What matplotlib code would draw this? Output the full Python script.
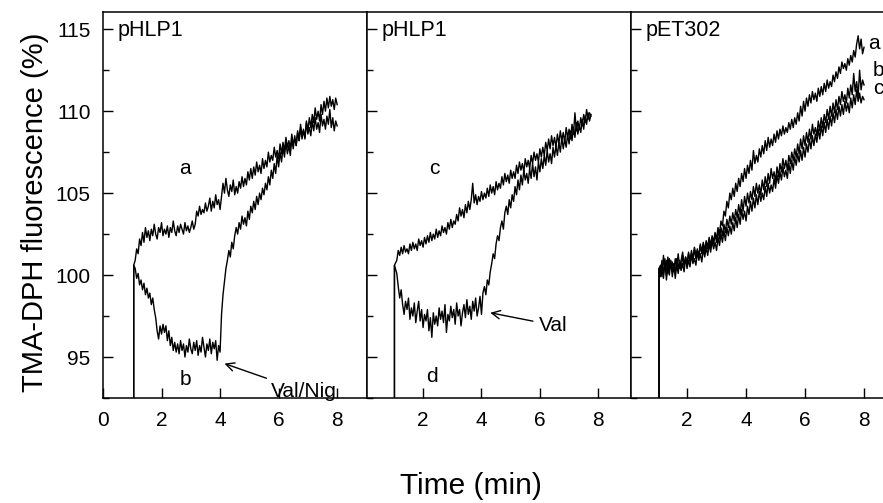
import numpy as np
import matplotlib.pyplot as plt
from matplotlib.ticker import MultipleLocator

plt.rcParams['font.family'] = ['Liberation Sans', 'DejaVu Sans']

# sampling grid of the recorded traces (min)
t_long = np.round(np.arange(1.10, 8.001, 0.05), 2)   # 139 points
t_short = np.round(np.arange(1.10, 7.751, 0.05), 2)  # 134 points

# onset of recording (vertical jump) and first level
jump_t = [1.05, 1.02, 1.05]
jump_v = [100.6, 100.6, 100.4]

# panel 1: pHLP1, traces a and b
p1_a = [100.9, 101.6, 101.3, 102.2, 101.8, 102.6, 102.0, 102.9, 102.3, 102.7,
        102.1, 102.8, 102.4, 103.1, 102.5, 102.2, 102.9, 102.6, 103.2, 102.4,
        102.8, 102.5, 103.0, 102.3, 102.9, 102.6, 103.3, 102.7, 102.4, 103.0,
        102.6, 103.1, 102.8, 102.5, 103.2, 102.7, 103.0, 102.6, 102.9, 103.3,
        102.8, 103.1, 103.9, 103.6, 104.2, 103.7, 104.0, 103.8, 104.4, 103.9,
        104.2, 104.7, 103.9, 104.5, 104.1, 104.9, 104.3, 104.6, 104.0, 104.8,
        105.6, 105.0, 105.9, 105.2, 104.8, 105.5, 105.1, 105.8, 104.9, 105.4,
        105.0, 105.7, 105.3, 106.0, 105.4, 105.9, 105.5, 106.3, 105.8, 106.5,
        105.9, 106.6, 106.1, 106.9, 106.3, 106.7, 106.2, 107.1, 106.5, 107.0,
        106.6, 107.5, 106.9, 107.3, 107.0, 107.8, 107.2, 107.6, 107.1, 108.0,
        107.4, 108.1, 107.6, 108.4, 107.8, 108.2, 107.7, 108.6, 108.0, 108.3,
        107.9, 108.7, 108.2, 109.0, 108.3, 108.8, 108.4, 109.3, 108.6, 109.0,
        108.5, 109.4, 108.8, 109.6, 108.9, 109.3, 108.7, 109.8, 109.1, 109.5,
        108.9, 109.7, 109.2, 110.1, 109.0, 109.6, 108.8, 109.4, 109.1]
p1_b = [100.4, 99.8, 100.1, 99.4, 99.7, 99.1, 99.5, 98.8, 99.2, 98.6,
        98.9, 98.2, 98.6, 97.9, 97.4, 96.6, 96.1, 96.9, 96.4, 97.0,
        96.5, 96.9, 96.0, 96.6, 95.7, 96.2, 95.4, 95.9, 95.3, 95.8,
        95.2, 96.0, 95.4, 95.8, 95.0, 95.7, 95.3, 96.1, 95.5, 95.2,
        95.9, 95.4, 96.0, 95.1, 95.7, 95.3, 96.2, 95.6, 95.0, 95.8,
        95.4, 96.1, 95.2, 95.9, 95.5, 96.0, 94.8, 95.7, 95.3, 97.6,
        98.8, 99.6, 100.4, 100.9, 101.5, 101.1, 102.0, 101.6, 102.4, 102.9,
        102.5, 103.2, 102.8, 103.6, 103.1, 103.5, 103.0, 103.9, 103.4, 104.2,
        103.8, 104.5, 104.0, 104.8, 104.3, 105.0, 104.6, 105.3, 104.9, 105.6,
        105.2, 106.0, 105.5, 106.4, 105.9, 106.8, 106.2, 107.3, 106.6, 107.5,
        106.9, 107.8, 107.2, 108.1, 107.4, 107.9, 107.3, 108.3, 107.7, 108.5,
        107.9, 108.8, 108.2, 109.2, 108.5, 108.9, 108.3, 109.4, 108.8, 109.6,
        109.0, 109.8, 109.3, 110.2, 109.5, 110.0, 109.4, 110.4, 109.8, 110.6,
        110.0, 110.8, 110.2, 110.9, 110.3, 110.7, 110.1, 110.8, 110.4]

# panel 2: pHLP1, traces c and d
p2_c = [100.9, 101.5, 101.2, 101.7, 101.3, 101.8, 101.4, 101.6, 101.3, 101.9,
        101.5, 102.0, 101.6, 101.9, 101.5, 102.2, 101.8, 102.1, 101.7, 102.3,
        101.9, 102.4, 102.0, 102.6, 102.1, 102.5, 102.2, 102.8, 102.3, 102.7,
        102.4, 103.0, 102.6, 102.9, 102.5, 103.2, 102.8, 103.4, 102.9, 103.3,
        103.1, 103.7, 103.3, 104.1, 103.6, 104.0, 103.5, 104.3, 103.8, 104.5,
        104.0, 104.6, 105.6, 104.4, 104.9, 104.3, 104.8, 104.5, 105.1, 104.6,
        105.0, 104.7, 105.3, 104.8, 105.5, 105.0, 105.4, 104.9, 105.7, 105.2,
        105.6, 105.3, 106.0, 105.5, 106.2, 105.7, 106.1, 105.6, 106.4, 105.9,
        106.3, 105.9, 106.7, 106.2, 106.9, 106.4, 106.8, 106.3, 107.1, 106.6,
        107.0, 106.5, 107.3, 106.8, 107.5, 107.0, 107.4, 106.9, 107.7, 107.2,
        107.8, 107.3, 108.1, 107.6, 108.3, 107.7, 108.5, 107.9, 108.4, 107.8,
        108.6, 108.0, 108.8, 108.2, 108.7, 108.1, 109.0, 108.4, 108.9, 108.3,
        109.2, 108.6, 109.9, 108.8, 109.4, 108.9, 109.6, 109.1, 109.8, 109.3,
        110.1, 109.5, 109.9, 109.7]
p2_d = [100.1, 99.3, 98.6, 99.1, 98.2, 97.6, 98.4, 97.9, 98.6, 97.3,
        98.0, 97.5, 98.3, 97.1, 97.8, 98.4, 97.2, 97.9, 96.8, 97.6,
        97.2, 97.9, 96.6, 97.4, 96.2, 97.7, 97.0, 97.5, 96.9, 98.0,
        97.3, 97.8, 97.1, 98.2, 96.5, 97.6, 97.2, 98.1, 97.4, 97.9,
        97.0, 98.3, 97.5, 97.9, 96.9, 97.7, 98.2, 97.4, 98.5, 97.6,
        98.1, 97.3, 98.4, 97.8, 98.6, 97.5, 98.0, 98.7, 97.6, 98.9,
        99.3, 98.8, 99.7, 99.4, 100.2, 100.7, 101.3, 101.0, 101.9, 102.4,
        102.1, 102.9, 103.3, 102.8, 103.8, 104.2, 103.7, 104.6, 104.1, 104.9,
        104.5, 105.4, 104.9, 105.8, 105.2, 106.1, 105.5, 106.4, 105.8, 106.2,
        105.6, 106.5, 105.9, 106.8, 106.0, 106.6, 105.8, 106.9, 106.3, 107.1,
        106.5, 107.3, 106.7, 107.6, 106.9, 107.4, 106.8, 107.8, 107.2, 107.9,
        107.3, 108.1, 107.5, 108.4, 107.7, 108.3, 107.8, 108.6, 108.0, 108.8,
        108.2, 109.0, 108.4, 109.3, 108.6, 109.1, 108.7, 109.5, 108.9, 109.7,
        109.2, 109.9, 109.4, 109.8]

# panel 3: pET302, traces a, b, c
p3_a = [100.6, 99.9, 101.2, 100.3, 100.9, 100.1, 101.0, 100.4, 100.8, 100.2,
        101.0, 100.5, 101.3, 100.4, 100.9, 101.4, 100.6, 101.1, 100.7, 101.3,
        100.9, 101.5, 101.0, 101.7, 101.2, 101.6, 101.1, 101.9, 101.4, 102.0,
        101.5, 102.1, 101.7, 102.3, 101.8, 102.4, 102.0, 102.6, 102.2, 102.9,
        102.5, 103.3, 103.0, 103.9, 103.6, 104.5, 104.1, 105.0, 104.6, 105.3,
        104.8, 105.6, 105.1, 105.9, 105.4, 106.2, 105.7, 106.5, 105.9, 106.7,
        106.2, 107.0, 106.4, 107.6, 106.8, 107.3, 106.9, 107.7, 107.2, 107.9,
        107.4, 108.2, 107.6, 108.4, 107.8, 108.3, 107.9, 108.6, 108.1, 108.8,
        108.3, 108.9, 108.5, 109.1, 108.6, 109.0, 108.7, 109.3, 108.9, 109.5,
        109.0, 109.6, 109.2, 109.9, 109.4, 110.3, 109.7, 110.6, 110.0, 110.8,
        110.3, 111.0, 110.5, 111.2, 110.7, 111.1, 110.6, 111.4, 110.9, 111.5,
        111.0, 111.7, 111.2, 111.9, 111.4, 111.8, 111.5, 112.2, 111.8, 112.4,
        112.0, 112.7, 112.3, 113.0, 112.6, 112.9, 112.5, 113.2, 112.8, 113.4,
        113.0, 113.7, 113.3, 114.1, 114.6, 113.8, 114.4, 113.5, 113.9]
p3_b = [100.2, 100.9, 99.8, 100.7, 100.0, 101.1, 100.3, 100.8, 99.9, 100.6,
        100.2, 101.0, 100.4, 100.8, 100.3, 101.2, 100.6, 101.0, 100.5, 101.4,
        100.8, 101.3, 100.9, 101.6, 101.0, 101.5, 101.2, 101.8, 101.3, 101.9,
        101.4, 102.0, 101.6, 102.2, 101.7, 102.3, 101.9, 102.5, 102.0, 102.7,
        102.2, 102.9, 102.4, 103.1, 102.6, 103.4, 102.9, 103.6, 103.1, 103.8,
        103.3, 104.0, 103.5, 104.3, 103.7, 104.6, 103.9, 104.8, 104.2, 105.0,
        104.4, 105.1, 104.6, 105.4, 104.8, 105.6, 105.0, 105.5, 104.9, 105.8,
        105.2, 106.0, 105.4, 106.2, 105.6, 106.5, 105.9, 106.3, 105.7, 106.6,
        106.0, 106.8, 106.3, 107.1, 106.5, 107.0, 106.4, 107.3, 106.8, 107.5,
        107.0, 107.7, 107.2, 108.0, 107.4, 108.3, 107.7, 108.5, 107.9, 108.7,
        108.1, 108.9, 108.3, 109.2, 108.6, 109.0, 108.5, 109.4, 108.8, 109.6,
        109.0, 109.8, 109.3, 110.1, 109.5, 110.3, 109.7, 110.5, 109.9, 110.7,
        110.1, 110.9, 110.4, 111.2, 110.6, 111.0, 110.5, 111.4, 110.8, 111.6,
        111.0, 112.3, 111.2, 111.8, 110.9, 112.5, 111.3, 111.9, 111.6]
p3_c = [99.9, 100.6, 100.1, 101.0, 99.7, 100.5, 100.0, 100.9, 100.2, 100.7,
        99.8, 100.6, 100.1, 100.9, 100.3, 100.7, 100.2, 101.1, 100.4, 100.9,
        100.5, 101.2, 100.7, 101.0, 100.6, 101.4, 100.9, 101.3, 100.8, 101.6,
        101.1, 101.7, 101.2, 101.9, 101.4, 102.1, 101.6, 102.0, 101.5, 102.3,
        101.8, 102.5, 102.0, 102.7, 102.1, 102.9, 102.4, 103.0, 102.5, 103.2,
        102.7, 103.5, 102.9, 103.7, 103.1, 104.0, 103.4, 103.9, 103.3, 104.2,
        103.7, 104.5, 103.9, 104.7, 104.1, 104.9, 104.3, 105.1, 104.5, 105.0,
        104.6, 105.4, 104.8, 105.6, 105.0, 105.5, 105.1, 105.9, 105.3, 106.1,
        105.6, 106.3, 105.8, 106.6, 106.0, 106.4, 105.9, 106.8, 106.2, 107.0,
        106.4, 107.2, 106.7, 107.4, 106.9, 107.6, 107.0, 107.8, 107.2, 108.0,
        107.5, 108.3, 107.7, 108.5, 107.9, 108.6, 108.1, 108.9, 108.3, 109.1,
        108.5, 109.3, 108.7, 109.5, 108.9, 109.7, 109.1, 109.9, 109.3, 110.1,
        109.5, 110.3, 109.7, 110.4, 109.8, 110.6, 110.0, 110.5, 109.9, 110.8,
        110.2, 111.0, 110.4, 111.3, 110.6, 111.1, 110.5, 110.9, 110.7]

panel_titles = ['pHLP1', 'pHLP1', 'pET302']
x_ticks = [[0, 2, 4, 6, 8], [2, 4, 6, 8], [2, 4, 6, 8]]
x_limits = [(0, 9.02), (0.08, 9.12), (0.1, 9.05)]
y_ticks = [95, 100, 105, 110, 115]

fig = plt.figure(figsize=(8.83, 5.03), dpi=100)
ax_w = 264 / 883
ax_b = 1 - 398 / 503
ax_h = (398 - 12) / 503
lefts = [103 / 883, 367 / 883, 631 / 883]
axes = [fig.add_axes([l, ax_b, ax_w, ax_h]) for l in lefts]

traces = [
    [(t_long, p1_a), (t_long, p1_b)],
    [(t_short, p2_c), (t_short, p2_d)],
    [(t_long, p3_a), (t_long, p3_b), (t_long, p3_c)],
]

for k, ax in enumerate(axes):
    for tt, vv in traces[k]:
        x = np.concatenate([[jump_t[k], jump_t[k], jump_t[k]], tt])
        y = np.concatenate([[90, jump_v[k], jump_v[k]], vv])
        ax.plot(x, y, color='black', lw=1.0)
    ax.set_xlim(*x_limits[k])
    ax.set_ylim(92.5, 116.05)
    ax.set_xticks(x_ticks[k])
    ax.set_yticks(y_ticks)
    ax.yaxis.set_minor_locator(MultipleLocator(2.5))
    ax.tick_params(which='major', direction='in', length=7, width=1,
                   labelsize=15, pad=9)
    ax.tick_params(which='minor', direction='in', length=4, width=1)
    ax.tick_params(axis='y', right=False, which='both')
    ax.tick_params(axis='x', top=False, which='both')
    if k > 0:
        ax.tick_params(axis='y', labelleft=False)
    for s in ax.spines.values():
        s.set_linewidth(1.1)
    ax.text(0.055, 0.953, panel_titles[k], transform=ax.transAxes,
            fontsize=15.5, va='center', ha='left')

# curve labels and drug additions
ax1, ax2, ax3 = axes
ax1.text(2.8, 106.5, 'a', fontsize=15, ha='center', va='center')
ax1.text(2.8, 93.6, 'b', fontsize=15, ha='center', va='center')
ax1.annotate('Val/Nig', xy=(4.15, 94.6), xytext=(5.75, 92.9),
             fontsize=15, va='center', ha='left',
             arrowprops=dict(arrowstyle='->', color='black', lw=1,
                             shrinkA=2, shrinkB=0))
ax2.text(2.4, 106.5, 'c', fontsize=15, ha='center', va='center')
ax2.text(2.3, 93.8, 'd', fontsize=15, ha='center', va='center')
ax2.annotate('Val', xy=(4.3, 97.7), xytext=(5.95, 96.95),
             fontsize=15, va='center', ha='left',
             arrowprops=dict(arrowstyle='->', color='black', lw=1,
                             shrinkA=2, shrinkB=0))
ax3.text(8.15, 114.1, 'a', fontsize=15, ha='left', va='center')
ax3.text(8.3, 112.5, 'b', fontsize=15, ha='left', va='center')
ax3.text(8.3, 111.4, 'c', fontsize=15, ha='left', va='center')

fig.text(35 / 883, 1 - 212 / 503, 'TMA-DPH fluorescence (%)', rotation=90,
         fontsize=21, ha='center', va='center')
fig.text(471 / 883, 1 - 486 / 503, 'Time (min)', fontsize=21.5,
         ha='center', va='center')

fig.savefig('out.png', dpi=100)
